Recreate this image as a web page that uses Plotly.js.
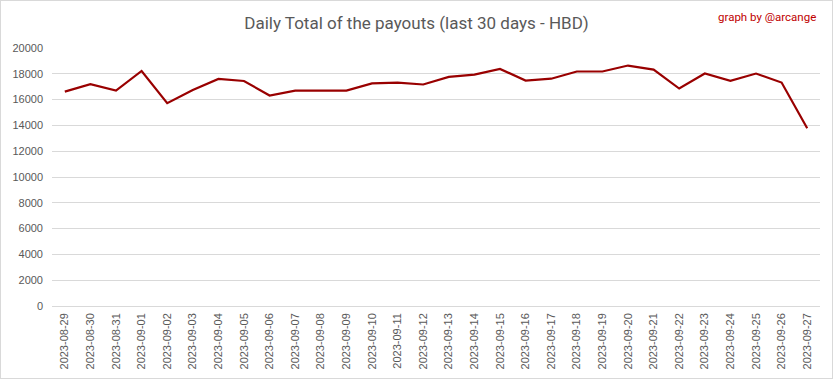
<!DOCTYPE html>
<html>
<head>
<meta charset="utf-8">
<script src="https://cdn.plot.ly/plotly-3.0.1.min.js"></script>
<style>
html,body{margin:0;padding:0;background:#fff;}
#wrap{position:relative;width:833px;height:379px;}
#chart{width:833px;height:379px;}
#frame{position:absolute;left:0;top:0;width:833px;height:379px;box-sizing:border-box;border:1px solid #d9d9d9;pointer-events:none;}
</style>
</head>
<body>
<div id="wrap"><div id="chart"></div><div id="frame"></div></div>
<script>
const dates = ["2023-08-29","2023-08-30","2023-08-31","2023-09-01","2023-09-02","2023-09-03","2023-09-04","2023-09-05","2023-09-06","2023-09-07","2023-09-08","2023-09-09","2023-09-10","2023-09-11","2023-09-12","2023-09-13","2023-09-14","2023-09-15","2023-09-16","2023-09-17","2023-09-18","2023-09-19","2023-09-20","2023-09-21","2023-09-22","2023-09-23","2023-09-24","2023-09-25","2023-09-26","2023-09-27"];
const payouts = [16620,17190,16700,18220,15720,16750,17600,17440,16320,16700,16700,16700,17260,17320,17170,17760,17940,18380,17480,17620,18180,18180,18640,18330,16860,18020,17450,18020,17320,13780];
const yTicks = [0,2000,4000,6000,8000,10000,12000,14000,16000,18000,20000];

const trace = {
  x: dates, y: payouts, type: 'scatter', mode: 'lines',
  line: {color: '#990000', width: 2.2},
  hoverinfo: 'x+y'
};
const layout = {
  width: 833, height: 379,
  margin: {l: 52, r: 13, t: 48, b: 73},
  paper_bgcolor: '#ffffff', plot_bgcolor: '#ffffff',
  showlegend: false,
  font: {family: 'Liberation Sans, Arial, sans-serif', color: '#595959', size: 11},
  title: {text: 'Daily Total of the payouts (last 30 days - HBD)', x: 0.5, xanchor: 'center', y: 0.94, yanchor: 'middle',
          font: {family: 'Roboto, sans-serif', size: 17, color: '#595959'}},
  xaxis: {type: 'category', range: [-0.5, dates.length - 0.5], tickangle: -90, showgrid: false, zeroline: false, showline: false,
          ticks: '', tickfont: {size: 11, color: '#595959'}, ticklabelstandoff: 4},
  yaxis: {range: [0, 20000], tickvals: yTicks, ticktext: yTicks.map(String), showgrid: true, gridcolor: '#d9d9d9', gridwidth: 1,
          zeroline: true, zerolinecolor: '#d9d9d9', zerolinewidth: 1, showline: false, ticks: '',
          tickfont: {size: 11, color: '#595959'}, ticklabelstandoff: 8},
  annotations: [{text: 'graph by @arcange', xref: 'paper', yref: 'paper', x: 1.0, xanchor: 'right', y: 1.0, yanchor: 'middle',
                 xshift: -2, yshift: 31, showarrow: false, font: {family: 'Roboto, sans-serif', size: 11.5, color: '#c00000'}}]
};
Plotly.newPlot('chart', [trace], layout, {displayModeBar: false, staticPlot: true});
</script>
</body>
</html>
